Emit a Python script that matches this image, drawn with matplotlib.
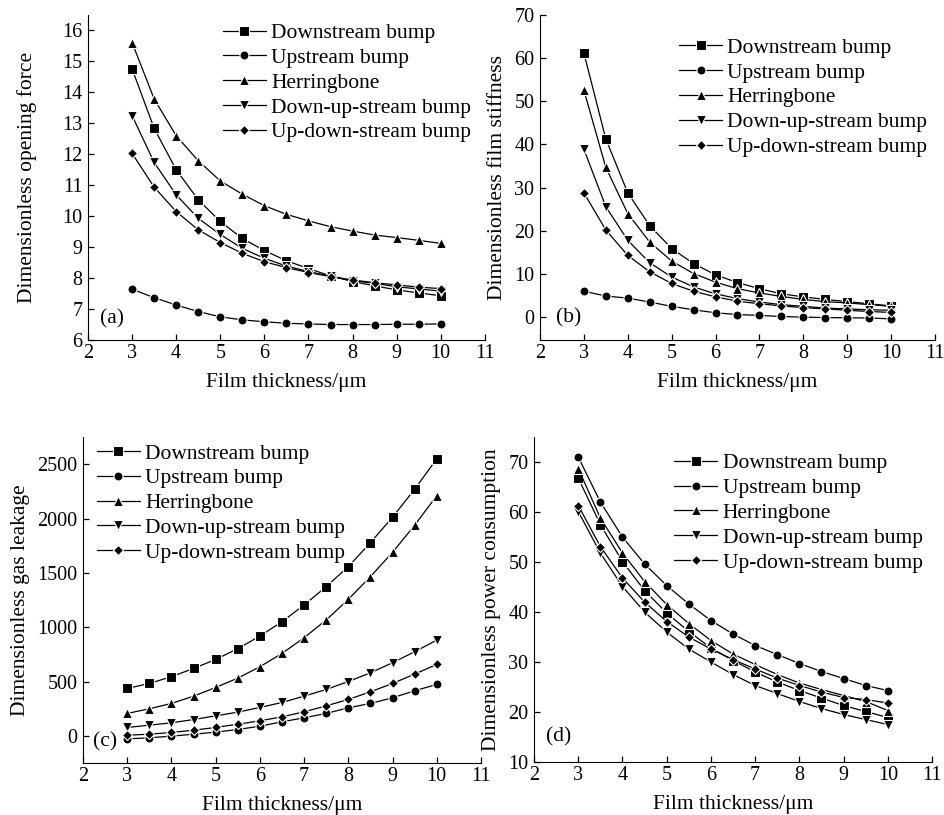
import numpy as np
import matplotlib
matplotlib.use('Agg')
import matplotlib.pyplot as plt

plt.rcParams['font.family'] = 'Liberation Serif'

# espesor de pelicula (um)
espesor = [3, 3.5, 4, 4.5, 5, 5.5, 6, 6.5, 7, 7.5, 8, 8.5, 9, 9.5, 10]

nombres = ['Downstream bump', 'Upstream bump', 'Herringbone',
           'Down-up-stream bump', 'Up-down-stream bump']
marcadores = ['s', 'o', '^', 'v', 'D']

# (a) fuerza de apertura adimensional
fuerza_down = [14.76, 12.84, 11.50, 10.53, 9.83, 9.28, 8.89, 8.56, 8.31, 8.07, 7.89, 7.75, 7.62, 7.52, 7.43]
fuerza_up = [7.64, 7.37, 7.13, 6.92, 6.75, 6.65, 6.59, 6.54, 6.52, 6.50, 6.50, 6.50, 6.51, 6.51, 6.52]
fuerza_herr = [15.61, 13.79, 12.60, 11.79, 11.14, 10.71, 10.34, 10.06, 9.85, 9.66, 9.52, 9.39, 9.31, 9.22, 9.12]
fuerza_downup = [13.25, 11.74, 10.69, 9.93, 9.41, 8.96, 8.64, 8.39, 8.21, 8.06, 7.92, 7.83, 7.72, 7.65, 7.58]
fuerza_updown = [12.03, 10.94, 10.15, 9.56, 9.15, 8.80, 8.53, 8.34, 8.18, 8.05, 7.94, 7.85, 7.78, 7.71, 7.66]

# (b) rigidez de pelicula adimensional
rigidez_down = [61.2, 41.3, 28.8, 21.2, 15.9, 12.4, 9.8, 8.0, 6.6, 5.4, 4.7, 4.1, 3.6, 3.1, 2.6]
rigidez_up = [6.0, 4.9, 4.4, 3.5, 2.5, 1.7, 1.0, 0.6, 0.4, 0.15, 0.0, -0.1, -0.15, -0.2, -0.4]
rigidez_herr = [52.6, 34.7, 24.0, 17.4, 13.0, 10.1, 8.1, 6.6, 5.6, 4.8, 4.1, 3.6, 3.3, 2.9, 2.5]
rigidez_downup = [38.9, 25.6, 17.8, 12.6, 9.3, 7.0, 5.4, 4.3, 3.5, 2.9, 2.5, 2.1, 1.9, 1.7, 1.6]
rigidez_updown = [28.8, 20.2, 14.3, 10.5, 7.8, 6.0, 4.7, 3.7, 3.1, 2.6, 2.2, 1.9, 1.6, 1.3, 1.1]

# (c) fuga de gas adimensional
fuga_down = [436, 482, 544, 620, 703, 802, 918, 1050, 1204, 1373, 1557, 1778, 2012, 2270, 2549]
fuga_up = [-28, -18, -3, 15, 34, 58, 89, 129, 166, 206, 258, 298, 350, 415, 473]
fuga_herr = [206, 249, 298, 365, 445, 531, 636, 758, 903, 1066, 1256, 1465, 1689, 1938, 2211]
fuga_downup = [77, 98, 120, 150, 184, 218, 261, 307, 365, 427, 500, 580, 673, 774, 881]
fuga_updown = [6, 15, 31, 52, 77, 107, 138, 175, 221, 276, 335, 405, 482, 568, 657]

# (d) consumo de potencia adimensional
potencia_down = [66.8, 57.5, 50.1, 44.3, 39.8, 36.1, 32.8, 30.3, 28.0, 26.0, 24.3, 22.8, 21.3, 20.1, 18.9]
potencia_up = [71.0, 62.0, 55.0, 49.6, 45.3, 41.6, 38.3, 35.6, 33.3, 31.5, 29.7, 28.1, 26.7, 25.3, 24.3]
potencia_herr = [68.7, 58.8, 51.8, 46.1, 41.5, 37.7, 34.3, 31.6, 29.5, 27.5, 25.8, 24.5, 23.3, 22.1, 20.3]
potencia_downup = [60.1, 51.8, 45.1, 40.0, 36.0, 32.6, 30.0, 27.5, 25.3, 23.7, 22.1, 20.7, 19.5, 18.5, 17.5]
potencia_updown = [61.3, 53.1, 46.8, 42.0, 38.1, 35.0, 32.6, 30.5, 28.6, 26.8, 25.3, 24.0, 22.9, 22.5, 21.8]

paneles = [
    dict(datos=[fuerza_down, fuerza_up, fuerza_herr, fuerza_downup, fuerza_updown],
         ylabel='Dimensionless opening force', letra='(a)', pad_y=18,
         ylim=(6, 16.5), yticks=np.arange(6, 17, 1),
         pos=[0.0931, 0.5828, 0.420, 0.3988],
         leg=(0.34, 0.975), letra_pos=(0.03, 0.05)),
    dict(datos=[rigidez_down, rigidez_up, rigidez_herr, rigidez_downup, rigidez_updown],
         ylabel='Dimensionless film stiffness', letra='(b)', pad_y=5,
         ylim=(-5.3, 70), yticks=np.arange(0, 71, 10),
         pos=[0.5714, 0.5828, 0.418, 0.3988],
         leg=(0.352, 0.93), letra_pos=(0.04, 0.055)),
    dict(datos=[fuga_down, fuga_up, fuga_herr, fuga_downup, fuga_updown],
         ylabel='Dimensionless gas leakage', letra='(c)', pad_y=5,
         ylim=(-250, 2750), yticks=np.arange(0, 2501, 500),
         pos=[0.0878, 0.0638, 0.4212, 0.400],
         leg=(0.035, 0.98), letra_pos=(0.025, 0.05)),
    dict(datos=[potencia_down, potencia_up, potencia_herr, potencia_downup, potencia_updown],
         ylabel='Dimensionless power consumption', letra='(d)', pad_y=5,
         ylim=(10, 75), yticks=np.arange(10, 71, 10),
         pos=[0.5651, 0.065, 0.4212, 0.3988],
         leg=(0.352, 0.95), letra_pos=(0.03, 0.062)),
]

fig = plt.figure(figsize=(9.45, 8.15), dpi=100)

for p in paneles:
    ax = fig.add_axes(p['pos'])
    for serie, nombre, m in zip(p['datos'], nombres, marcadores):
        ms = 5.5 if m == 'D' else 6.5
        ax.plot(espesor, serie, color='black', linewidth=0.9, marker=m,
                markersize=ms, markerfacecolor='black', markeredgecolor='white',
                markeredgewidth=0.8, label=nombre)

    ax.set_xlim(2, 11)
    ax.set_ylim(*p['ylim'])
    ax.set_xticks(range(2, 12))
    ax.set_yticks(p['yticks'])
    ax.spines['top'].set_visible(False)
    ax.spines['right'].set_visible(False)
    ax.tick_params(direction='in', length=4, width=0.9, labelsize=14.5)
    ax.tick_params(axis='x', pad=3)
    ax.tick_params(axis='y', pad=4)
    ax.set_xlabel('Film thickness/\u03bcm', fontsize=15.5, labelpad=7)
    ax.set_ylabel(p['ylabel'], fontsize=15.5, labelpad=p['pad_y'])
    ax.text(*p['letra_pos'], p['letra'], transform=ax.transAxes, fontsize=15.5)

    ax.legend(loc='upper left', bbox_to_anchor=p['leg'], frameon=False,
              fontsize=15.5, handlelength=2.0, handletextpad=0.25,
              labelspacing=0.22, borderaxespad=0, borderpad=0)

plt.savefig('out.png', dpi=100)
